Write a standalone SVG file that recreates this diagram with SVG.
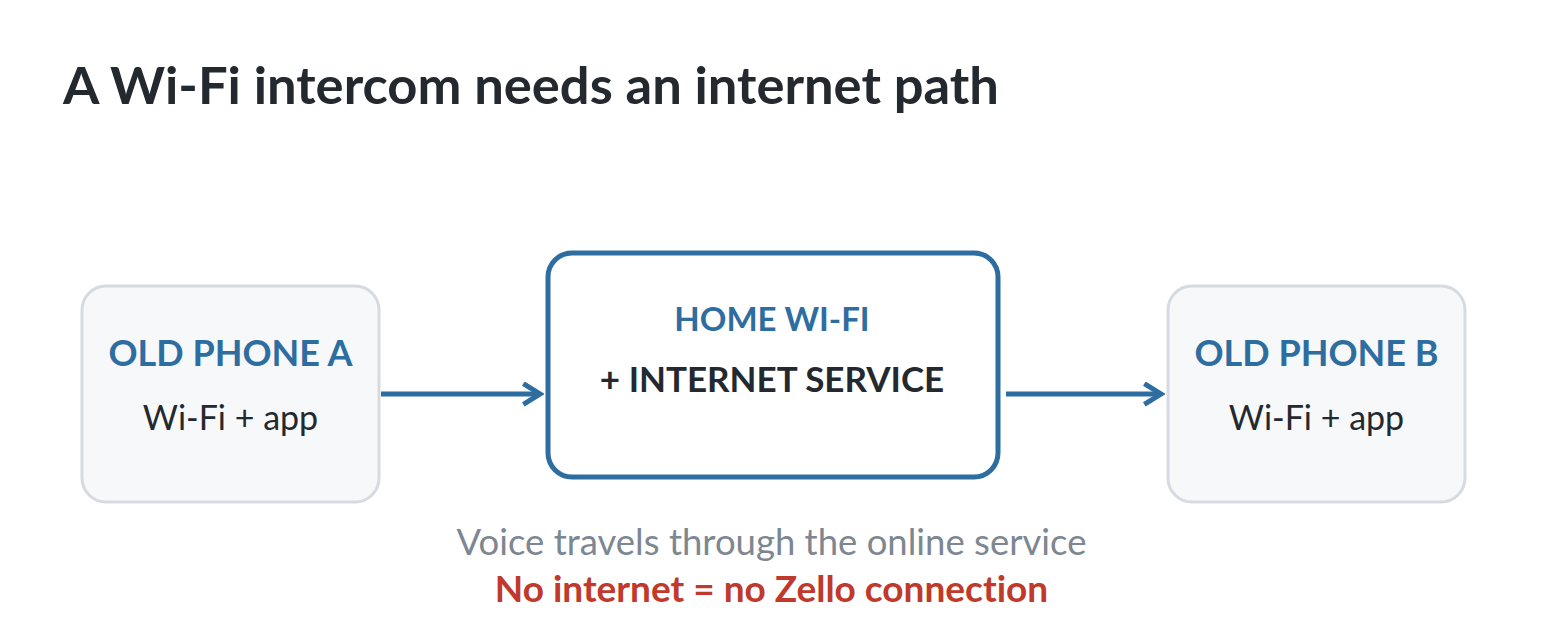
<svg xmlns="http://www.w3.org/2000/svg" width="1546" height="620" viewBox="0 0 1546 620">
<defs>
<style>
.t{font-family:Lato,"Noto Sans","Liberation Sans",sans-serif;font-variant-ligatures:none;font-feature-settings:"liga" 0}
.title{font-size:52.5px;font-weight:700;fill:#24292f}
.hd{font-size:36px;font-weight:700;fill:#2e6da0}
.hd2{font-size:33px;font-weight:700;fill:#2e6da0}
.sub{font-size:34px;fill:#24292f}
.sub2{font-size:35px;font-weight:700;fill:#24292f}
.note{font-size:36.5px;fill:#7d8791}
.warn{font-size:37px;font-weight:700;fill:#c0392b}
.phone{fill:#f6f8fa;stroke:#d5dbe1;stroke-width:3}
.hub{fill:#ffffff;stroke:#2e6da0;stroke-width:5}
.conn{stroke:#2e6da0;stroke-width:5;fill:none}
</style>
<marker id="ah" viewBox="0 0 12 12" refX="10" refY="6" markerWidth="5" markerHeight="5" orient="auto" markerUnits="strokeWidth">
<path d="M2,1 L10,6 L2,11" fill="none" stroke="#2e6da0" stroke-width="2.4"/>
</marker>
</defs>
<rect width="1546" height="620" fill="#ffffff"/>
<text class="t title" x="63" y="104">A Wi-Fi intercom needs an internet path</text>
<g id="phoneA">
<rect class="phone" x="82" y="286" width="297" height="216" rx="24"/>
<text class="t hd" x="230.5" y="366" text-anchor="middle">OLD PHONE A</text>
<text class="t sub" x="230.5" y="430" text-anchor="middle">Wi-Fi + app</text>
</g>
<g id="hub">
<rect class="hub" x="548" y="253" width="450" height="224" rx="24"/>
<text class="t hd2" x="772" y="331" text-anchor="middle">HOME WI-FI</text>
<text class="t sub2" x="772" y="392" text-anchor="middle">+ INTERNET SERVICE</text>
</g>
<g id="phoneB">
<rect class="phone" x="1168" y="286" width="297" height="216" rx="24"/>
<text class="t hd" x="1316.5" y="366" text-anchor="middle">OLD PHONE B</text>
<text class="t sub" x="1316.5" y="430" text-anchor="middle">Wi-Fi + app</text>
</g>
<g id="connectors">
<line class="conn" x1="381" y1="394" x2="540" y2="394" marker-end="url(#ah)"/>
<line class="conn" x1="1006" y1="394" x2="1161" y2="394" marker-end="url(#ah)"/>
</g>
<g id="caption">
<text class="t note" x="771.5" y="555" text-anchor="middle">Voice travels through the online service</text>
<text class="t warn" x="771.5" y="602" text-anchor="middle">No internet = no Zello connection</text>
</g>
</svg>
